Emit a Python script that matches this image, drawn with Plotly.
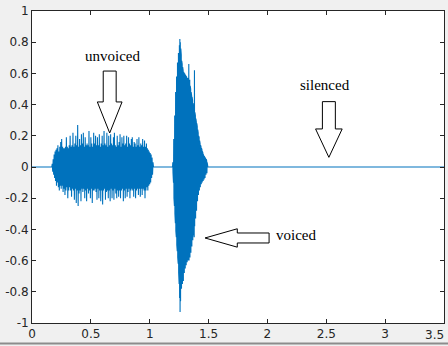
import plotly.graph_objects as go

# ---------------- data ----------------
signal_end = 3.5

unvoiced_start = 0.172
unvoiced_step = 0.004
unvoiced_values = [
    0.02, -0.03, 0.05, -0.05, 0.08, -0.07, 0.1, -0.09, 0.11, -0.12,
    0.12, -0.1, 0.14, -0.13, 0.1, -0.15, 0.13, -0.12, 0.16, -0.14,
    0.18, -0.12, 0.13, -0.16, 0.12, -0.14, 0.12, -0.18, 0.13, -0.15,
    0.19, -0.13, 0.13, -0.2, 0.12, -0.15, 0.14, -0.13, 0.2, -0.15,
    0.13, -0.19, 0.14, -0.14, 0.22, -0.15, 0.13, -0.21, 0.15, -0.14,
    0.2, -0.23, 0.14, -0.15, 0.27, -0.25, 0.13, -0.17, 0.18, -0.15,
    0.14, -0.22, 0.21, -0.14, 0.15, -0.16, 0.22, -0.14, 0.13, -0.2,
    0.19, -0.15, 0.14, -0.22, 0.15, -0.14, 0.14, -0.17, 0.23, -0.15,
    0.13, -0.2, 0.19, -0.14, 0.15, -0.23, 0.13, -0.15, 0.22, -0.15,
    0.15, -0.14, 0.2, -0.16, 0.14, -0.21, 0.19, -0.14, 0.14, -0.2,
    0.21, -0.15, 0.13, -0.22, 0.15, -0.15, 0.2, -0.24, 0.14, -0.15,
    0.23, -0.14, 0.15, -0.21, 0.14, -0.16, 0.22, -0.15, 0.13, -0.2,
    0.2, -0.15, 0.14, -0.22, 0.21, -0.14, 0.15, -0.2, 0.14, -0.15,
    0.19, -0.21, 0.22, -0.14, 0.14, -0.17, 0.13, -0.2, 0.2, -0.15,
    0.14, -0.19, 0.16, -0.15, 0.21, -0.2, 0.13, -0.15, 0.19, -0.14,
    0.15, -0.22, 0.2, -0.15, 0.14, -0.2, 0.15, -0.14, 0.2, -0.19,
    0.13, -0.16, 0.19, -0.14, 0.15, -0.2, 0.14, -0.15, 0.18, -0.14,
    0.19, -0.15, 0.13, -0.19, 0.16, -0.14, 0.15, -0.2, 0.13, -0.15,
    0.18, -0.14, 0.14, -0.18, 0.19, -0.14, 0.13, -0.19, 0.15, -0.14,
    0.14, -0.18, 0.18, -0.14, 0.13, -0.15, 0.17, -0.2, 0.13, -0.15,
    0.15, -0.13, 0.12, -0.15, 0.11, -0.12, 0.1, -0.11, 0.09, -0.1,
    0.08, -0.07, 0.06, -0.05, 0.03,
]

voiced_start = 1.196
voiced_step = 0.002
voiced_values = [
    0.03, -0.04, 0.1, -0.1, 0.18, -0.2, 0.26, -0.25, 0.33, -0.3,
    0.42, -0.36, 0.48, -0.41, 0.54, -0.45, 0.58, -0.5, 0.64, -0.54,
    0.67, -0.58, 0.7, -0.62, 0.73, -0.68, 0.76, -0.75, 0.78, -0.84,
    0.82, -0.93, 0.8, -0.86, 0.76, -0.8, 0.72, -0.78, 0.68, -0.76,
    0.66, -0.75, 0.64, -0.74, 0.62, -0.73, 0.61, -0.7, 0.6, -0.68,
    0.6, -0.66, 0.59, -0.65, 0.59, -0.64, 0.58, -0.63, 0.58, -0.62,
    0.57, -0.61, 0.57, -0.61, 0.57, -0.6, 0.56, -0.6, 0.66, -0.6,
    0.56, -0.59, 0.56, -0.58, 0.52, -0.56, 0.5, -0.55, 0.48, -0.53,
    0.46, -0.51, 0.45, -0.49, 0.43, -0.47, 0.41, -0.45, 0.39, -0.42,
    0.37, -0.45, 0.62, -0.38, 0.35, -0.35, 0.33, -0.33, 0.31, -0.3,
    0.29, -0.28, 0.28, -0.26, 0.26, -0.22, 0.24, -0.2, 0.22, -0.18,
    0.2, -0.16, 0.19, -0.15, 0.17, -0.14, 0.15, -0.13, 0.14, -0.12,
    0.13, -0.11, 0.12, -0.1, 0.11, -0.1, 0.1, -0.09, 0.09, -0.09,
    0.08, -0.08, 0.07, -0.08, 0.07, -0.07, 0.06, -0.07, 0.06, -0.06,
    0.05, -0.05, 0.05, -0.05, 0.04, -0.04, 0.03, -0.02, 0.01,
]

x_tick_values = [0, 0.5, 1, 1.5, 2, 2.5, 3, 3.5]
x_tick_labels = ["0", "0.5", "1", "1.5", "2", "2.5", "3", "3.5"]
y_tick_values = [-1, -0.8, -0.6, -0.4, -0.2, 0, 0.2, 0.4, 0.6, 0.8, 1]
y_tick_labels = ["-1", "-0.8", "-0.6", "-0.4", "-0.2", "0", "0.2", "0.4", "0.6", "0.8", "1"]

labels = ["unvoiced", "silenced", "voiced"]

# ---------------- build the signal (silence = 0 between segments) ----------------
t = [0.0]
s = [0.0]
for start, step, vals in ((unvoiced_start, unvoiced_step, unvoiced_values),
                          (voiced_start, voiced_step, voiced_values)):
    t.append(start - step)
    s.append(0.0)
    for i, v in enumerate(vals):
        t.append(start + i * step)
        s.append(v)
    t.append(start + len(vals) * step)
    s.append(0.0)
t.append(signal_end)
s.append(0.0)

fig = go.Figure()
fig.add_trace(go.Scatter(x=t, y=s, mode="lines",
                         line=dict(color="#0072BD", width=1.1),
                         hoverinfo="skip", showlegend=False))

# ---------------- block arrows ----------------
def down_arrow(xc, shaft_half, head_half, y_top, y_head, y_tip):
    return (f"M {xc - shaft_half} {y_top} L {xc + shaft_half} {y_top} "
            f"L {xc + shaft_half} {y_head} L {xc + head_half} {y_head} "
            f"L {xc} {y_tip} L {xc - head_half} {y_head} "
            f"L {xc - shaft_half} {y_head} Z")

def left_arrow(yc, shaft_half, head_half, x_right, x_head, x_tip):
    return (f"M {x_right} {yc - shaft_half} L {x_right} {yc + shaft_half} "
            f"L {x_head} {yc + shaft_half} L {x_head} {yc + head_half} "
            f"L {x_tip} {yc} L {x_head} {yc - head_half} "
            f"L {x_head} {yc - shaft_half} Z")

arrow_style = dict(type="path", xref="x", yref="y",
                   line=dict(color="black", width=1), fillcolor="rgba(0,0,0,0)")
fig.add_shape(path=down_arrow(0.66, 0.055, 0.105, 0.615, 0.417, 0.218), **arrow_style)
fig.add_shape(path=down_arrow(2.522, 0.055, 0.113, 0.419, 0.244, 0.062), **arrow_style)
fig.add_shape(path=left_arrow(-0.455, 0.032, 0.059, 2.014, 1.744, 1.47), **arrow_style)

text_font = dict(family="Liberation Serif, Times New Roman, serif", size=15, color="black")
fig.add_annotation(x=0.68, y=0.714, text=labels[0], showarrow=False, font=text_font)
fig.add_annotation(x=2.49, y=0.527, text=labels[1], showarrow=False, font=text_font)
fig.add_annotation(x=2.24, y=-0.437, text=labels[2], showarrow=False, font=text_font)

tick_font = dict(family="DejaVu Sans, sans-serif", size=12, color="#262626")
axis_common = dict(showgrid=False, zeroline=False, showline=True, mirror="ticks",
                   linecolor="#262626", linewidth=1, ticks="inside", ticklen=4,
                   tickcolor="#262626", tickwidth=1, automargin=False,
                   tickfont=tick_font)

# last x label sits pulled in from the window edge, as in the reference
fig.update_xaxes(range=[0, 3.5], tickvals=x_tick_values,
                 ticktext=x_tick_labels[:-1] + [""], **axis_common)
fig.update_yaxes(range=[-1, 1], tickvals=y_tick_values, ticktext=y_tick_labels, **axis_common)
fig.add_annotation(x=x_tick_values[-1], xref="x", y=0, yref="paper",
                   text=x_tick_labels[-1], showarrow=False, font=tick_font,
                   xanchor="right", yanchor="middle", xshift=2, yshift=-12)

# window frame line along the bottom of the screenshot
fig.add_shape(type="line", xref="paper", yref="paper", x0=-0.1, x1=1.1,
              y0=-20.5 / 312, y1=-20.5 / 312, line=dict(color="#8c8c8c", width=2))

fig.update_layout(width=448, height=346,
                  margin=dict(l=32, r=4, t=11, b=23),
                  paper_bgcolor="#f0f0f0", plot_bgcolor="white")

fig.write_html("out.html", config={"displayModeBar": False},
               post_script="document.body.style.margin='0';document.body.style.background='#f0f0f0';")
